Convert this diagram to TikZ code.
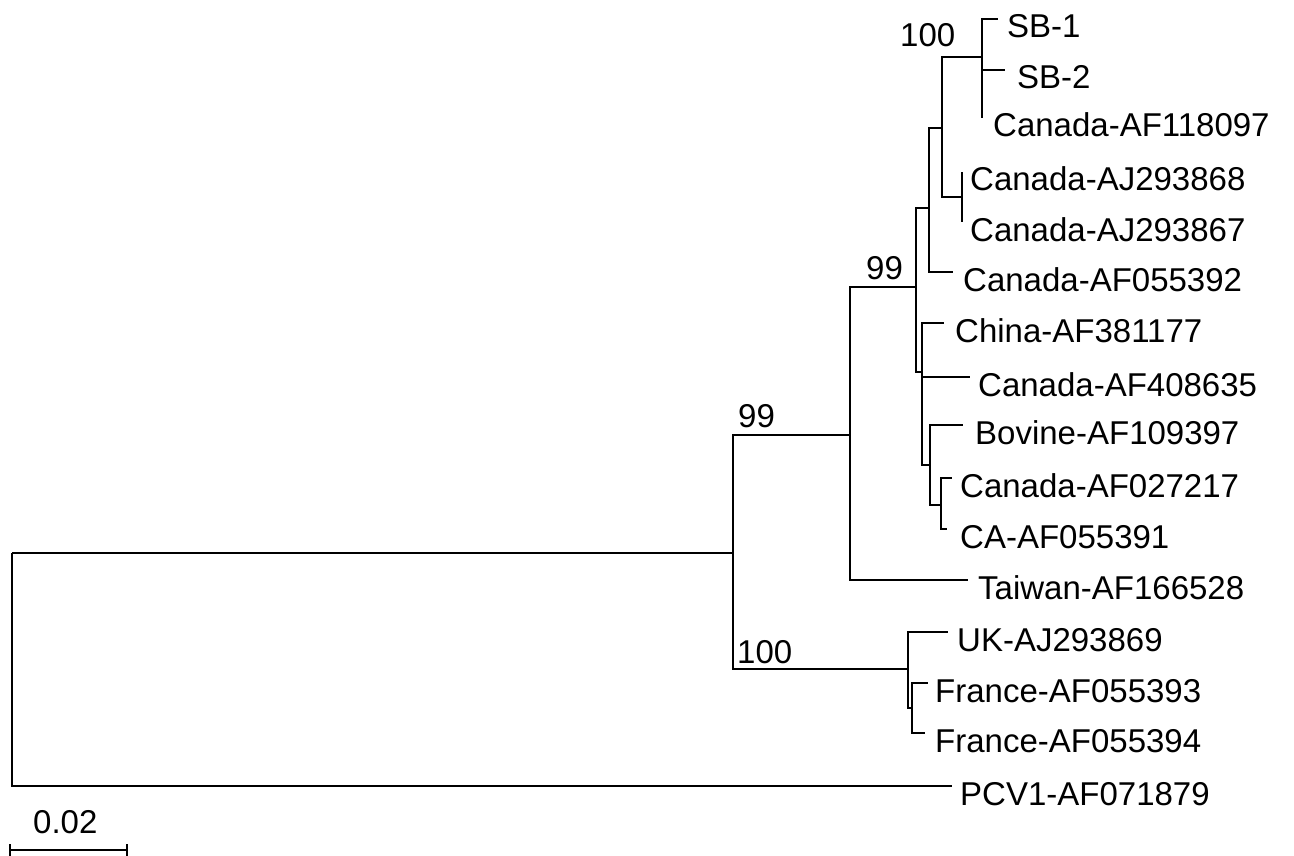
\documentclass[tikz,border=0pt]{standalone}
\usepackage{fontspec}
\setmainfont{Liberation Sans}
\begin{document}
\begin{tikzpicture}[x=1pt,y=-1pt,
  br/.style={line width=2.7pt, line join=miter},
  lab/.style={anchor=base west, inner sep=0pt, font=\fontsize{33}{40}\selectfont},
  boot/.style={anchor=base west, inner sep=0pt, font=\fontsize{33}{40}\selectfont}]
\useasboundingbox (0,0) rectangle (1294,856);
\fill[white] (0,0) rectangle (1294,856);

% internal nodes
\coordinate (nF) at (982,57);
\coordinate (nG) at (962,197);
\coordinate (nE) at (942,128);
\coordinate (nD) at (929,208);
\coordinate (nC) at (941,505);
\coordinate (nB) at (930,465);
\coordinate (nA) at (922,372);
\coordinate (nU) at (916,287);
\coordinate (nL) at (850,435);
\coordinate (nFR) at (912,708);
\coordinate (nUK) at (908,669);
\coordinate (nR) at (733,553);
\coordinate (root) at (12,553);

% leaf branch ends
\coordinate (l1) at (998,19);
\coordinate (l2) at (1005,70);
\coordinate (l3) at (982,118);
\coordinate (l4) at (962,172);
\coordinate (l5) at (962,222);
\coordinate (l6) at (953,272);
\coordinate (l7) at (944,323);
\coordinate (l8) at (970,377);
\coordinate (l9) at (963,425);
\coordinate (l10) at (952,478);
\coordinate (l11) at (947,529);
\coordinate (l12) at (968,580);
\coordinate (l13) at (948,632);
\coordinate (l14) at (928,683);
\coordinate (l15) at (925,733);
\coordinate (l16) at (952,786);

% labels
\node[lab] (t1) at (1007,38) {SB-1};
\node[lab] (t2) at (1017,89) {SB-2};
\node[lab] (t3) at (993,137) {Canada-AF118097};
\node[lab] (t4) at (970,191) {Canada-AJ293868};
\node[lab] (t5) at (970,241) {Canada-AJ293867};
\node[lab] (t6) at (963,291) {Canada-AF055392};
\node[lab] (t7) at (955,342) {China-AF381177};
\node[lab] (t8) at (978,396) {Canada-AF408635};
\node[lab] (t9) at (975,444) {Bovine-AF109397};
\node[lab] (t10) at (960,497) {Canada-AF027217};
\node[lab] (t11) at (960,548) {CA-AF055391};
\node[lab] (t12) at (978,599) {Taiwan-AF166528};
\node[lab] (t13) at (957,651) {UK-AJ293869};
\node[lab] (t14) at (935,702) {France-AF055393};
\node[lab] (t15) at (935,752) {France-AF055394};
\node[lab] (t16) at (960,805) {PCV1-AF071879};

% bootstrap values
\node[boot] (b1) at (900,47) {100};
\node[boot] (b2) at (866,279) {99};
\node[boot] (b3) at (738,427) {99};
\node[boot] (b4) at (737,663) {100};

% branches
\draw[br] (nF) |- (l1);
\draw[br] (nF) |- (l2);
\draw[br] (nF) |- (l3);
\draw[br] (nG) |- (l4);
\draw[br] (nG) |- (l5);
\draw[br] (nE) |- (nF);
\draw[br] (nE) |- (nG);
\draw[br] (nD) |- (nE);
\draw[br] (nD) |- (l6);
\draw[br] (nC) |- (l10);
\draw[br] (nC) |- (l11);
\draw[br] (nB) |- (l9);
\draw[br] (nB) |- (nC);
\draw[br] (nA) |- (l7);
\draw[br] (nA) |- (l8);
\draw[br] (nA) |- (nB);
\draw[br] (nU) |- (nD);
\draw[br] (nU) |- (nA);
\draw[br] (nL) |- (nU);
\draw[br] (nL) |- (l12);
\draw[br] (nFR) |- (l14);
\draw[br] (nFR) |- (l15);
\draw[br] (nUK) |- (l13);
\draw[br] (nUK) |- (nFR);
\draw[br] (nR) |- (nL);
\draw[br] (nR) |- (nUK);
\draw[br] (root) |- (nR);
\draw[br] (root) |- (l16);

% scale bar
\coordinate (s1) at (10,850);
\coordinate (s2) at (127,850);
\draw[br] (s1) -- (s2);
\draw[br] ([yshift=-12pt]s1) -- ([yshift=6pt]s1);
\draw[br] ([yshift=-12pt]s2) -- ([yshift=6pt]s2);
\node[boot] (sc) at (33,833) {0.02};
\end{tikzpicture}
\end{document}
